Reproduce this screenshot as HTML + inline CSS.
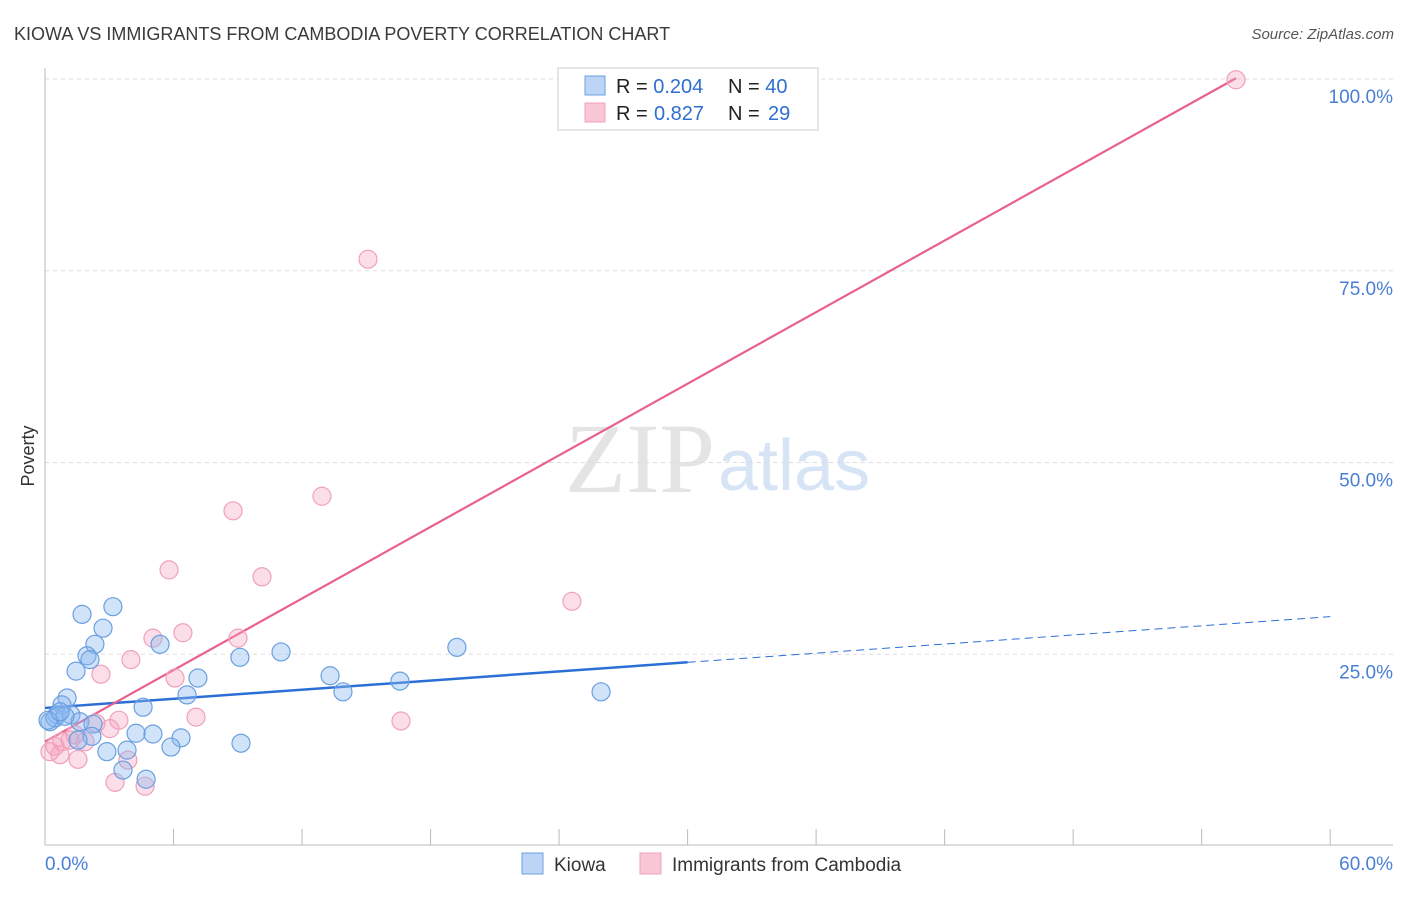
<!DOCTYPE html>
<html><head><meta charset="utf-8"><style>
body{margin:0;background:#fff;font-family:"Liberation Sans",sans-serif}
</style></head><body>
<svg width="1406" height="892" xmlns="http://www.w3.org/2000/svg" font-family="Liberation Sans, sans-serif">
<text x="14" y="40" font-size="18" fill="#3a3a3a">KIOWA VS IMMIGRANTS FROM CAMBODIA POVERTY CORRELATION CHART</text>
<text x="1394" y="39" font-size="15" fill="#555" font-style="italic" text-anchor="end">Source: ZipAtlas.com</text>
<text x="715" y="492" font-size="100" fill="#e4e4e4" text-anchor="end" font-family="Liberation Serif, serif">ZIP</text>
<text x="718" y="490" font-size="72" fill="#d6e4f6">atlas</text>
<text transform="translate(34,456) rotate(-90)" font-size="18" fill="#333" text-anchor="middle">Poverty</text>
<g id="grid"></g><g id="axes"></g><g id="lines"></g><g id="pts"></g>
<g>
<rect x="558" y="68" width="260" height="62" fill="#fff" stroke="#ccc"/>
<rect x="585" y="76" width="20" height="19" fill="#bcd4f6" stroke="#6a9fe0"/>
<rect x="585" y="103" width="20" height="19" fill="#f9c6d6" stroke="#f0a0bc"/>
<text x="616" y="93" font-size="20" fill="#222">R = <tspan fill="#2f6fd0">0.204</tspan><tspan x="728">N = </tspan><tspan fill="#2f6fd0">40</tspan></text>
<text x="616" y="120" font-size="20" fill="#222">R = <tspan fill="#2f6fd0" x="654">0.827</tspan><tspan x="728">N = </tspan><tspan fill="#2f6fd0" x="768">29</tspan></text>
</g>
<g>
<rect x="522" y="853" width="21" height="21" fill="#bcd4f6" stroke="#6a9fe0"/>
<text x="554" y="871" font-size="19" fill="#333">Kiowa</text>
<rect x="640" y="853" width="21" height="21" fill="#f9c6d6" stroke="#f0a0bc"/>
<text x="672" y="871" font-size="19" fill="#333">Immigrants from Cambodia</text>
</g>
</svg>
<script>
const yTicks=[25,50,75,100];
const xTickLabels=["0.0%","60.0%"];
const blueX=[3.17,1.73,2.71,2.33,1.96,2.10,1.45,5.37,9.10,11.02,19.23,7.14,6.63,13.31,13.91,16.57,25.96,1.03,0.79,4.58,0.56,0.23,0.47,1.21,1.63,2.24,5.04,4.25,6.35,2.19,1.54,3.83,2.89,5.88,9.15,3.64,4.72,0.14,0.93,0.70];
const blueY=[31.2,30.2,28.4,26.3,24.8,24.3,22.8,26.3,24.6,25.3,25.9,21.9,19.7,22.2,20.1,21.5,20.1,19.3,18.4,18.1,17.1,16.2,16.7,17.1,16.2,15.9,14.6,14.7,14.1,14.3,13.8,12.5,12.3,12.9,13.4,9.9,8.7,16.4,16.9,17.5];
const pinkX=[55.6,15.08,12.93,8.78,5.79,10.13,24.6,6.44,5.04,9.01,4.01,2.61,6.07,7.05,16.62,3.45,2.38,3.03,1.40,0.79,0.47,0.23,0.70,1.54,3.87,3.27,4.67,1.17,1.87];
const pinkY=[99.9,76.5,45.6,43.7,36.0,35.1,31.9,27.8,27.1,27.1,24.3,22.4,21.9,16.8,16.3,16.4,16.0,15.3,14.5,13.6,13.0,12.3,11.9,11.3,11.2,8.3,7.8,13.8,13.6];
const blueTrend=[18.0,29.9];
const pinkTrend=[13.6,100.1];
const pinkTrendEnd=55.6;
const blueSolidEnd=30;
const NS="http://www.w3.org/2000/svg";
const sx=v=>45+v*21.42, sy=v=>846-v*7.67;
function mk(t,a,p){const e=document.createElementNS(NS,t);for(const k in a)e.setAttribute(k,a[k]);p.appendChild(e);return e;}
const grid=document.getElementById('grid'),axes=document.getElementById('axes'),lines=document.getElementById('lines'),pts=document.getElementById('pts');
yTicks.forEach(t=>{
 const l=mk('line',{x1:45,x2:1393,y1:sy(t),y2:sy(t),stroke:'#ddd','stroke-dasharray':'4,4'},grid);
 
 
 const tx=mk('text',{x:1393,y:sy(t)+24,'font-size':19,fill:'#4a7fd6','text-anchor':'end'},grid);
 tx.textContent=t.toFixed(1)+'%';
 
 
});
const ax=mk('path',{d:'M45,68V845H1393',stroke:'#bbb',fill:'none'},axes);


for(let i=0;i<=10;i++){const x=sx(i*6);const tk=mk('line',{x1:x,x2:x,y1:829,y2:845,stroke:'#bbb'},axes);
 
 }
const xl0=mk('text',{x:45,y:870,'font-size':19,fill:'#4a7fd6'},axes);xl0.textContent=xTickLabels[0];


const xl1=mk('text',{x:1393,y:870,'font-size':19,fill:'#4a7fd6','text-anchor':'end'},axes);xl1.textContent=xTickLabels[1];


function draw(X,Y,fill,stroke,name){X.forEach((x,i)=>{const c=mk('circle',{cx:sx(x),cy:sy(Y[i]),r:9,fill:fill,stroke:stroke,'stroke-width':1.2},pts);
 
 });}
draw(pinkX,pinkY,'rgba(245,160,190,0.35)','#f0a0bc','cambodia-point');
draw(blueX,blueY,'rgba(140,185,240,0.4)','#6a9fe0','kiowa-point');
const by=x=>blueTrend[0]+(blueTrend[1]-blueTrend[0])*x/60;
const b1=mk('line',{x1:sx(0),y1:sy(by(0)),x2:sx(blueSolidEnd),y2:sy(by(blueSolidEnd)),stroke:'#2b6fd6','stroke-width':2.5},lines);


const b2=mk('line',{x1:sx(blueSolidEnd),y1:sy(by(blueSolidEnd)),x2:sx(60),y2:sy(by(60)),stroke:'#2b6fd6','stroke-width':1,'stroke-dasharray':'8,5'},lines);


const p1=mk('line',{x1:sx(0),y1:sy(pinkTrend[0]),x2:sx(pinkTrendEnd),y2:sy(pinkTrend[1]),stroke:'#e8608c','stroke-width':2.2},lines);


</script>
</body></html>
